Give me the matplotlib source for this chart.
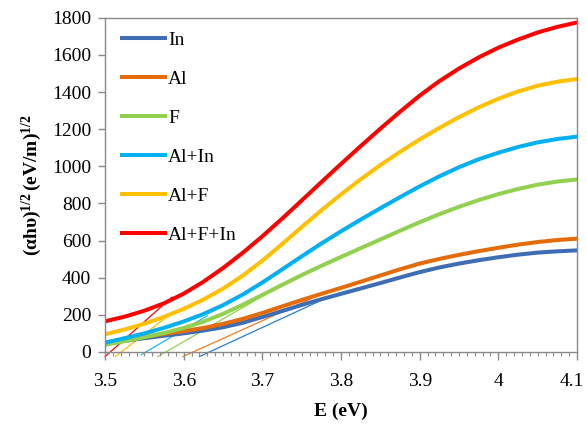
import numpy as np
import matplotlib
matplotlib.use("Agg")
import matplotlib.pyplot as plt
from matplotlib.ticker import MultipleLocator, FuncFormatter

plt.rcParams['font.family'] = ['Liberation Serif', 'DejaVu Serif']
plt.rcParams['mathtext.fontset'] = 'custom'
plt.rcParams['mathtext.rm'] = 'Liberation Serif'
plt.rcParams['mathtext.bf'] = 'Liberation Serif:bold'
plt.rcParams['mathtext.it'] = 'Liberation Serif:italic'

# photon energy (eV)
E = [3.5, 3.525, 3.55, 3.575, 3.6, 3.625, 3.65, 3.675, 3.7, 3.725, 3.75, 3.775, 3.8,
     3.825, 3.85, 3.875, 3.9, 3.925, 3.95, 3.975, 4.0, 4.025, 4.05, 4.075, 4.1]

# (alpha h nu)^1/2
In_vals    = [45, 60, 74, 87, 100, 115, 133, 157, 188, 220, 253, 284, 313,
              342, 371, 401, 430, 455, 476, 494, 510, 524, 535, 542, 547]
Al_vals    = [45, 65, 82, 97, 112, 129, 151, 178, 210, 245, 280, 313, 345,
              378, 412, 445, 476, 501, 523, 543, 561, 578, 592, 603, 610]
F_vals     = [38, 58, 79, 102, 129, 163, 205, 254, 307, 361, 414, 464, 512,
              559, 606, 653, 699, 742, 782, 818, 850, 878, 901, 918, 929]
AlIn_vals  = [50, 74, 100, 130, 164, 204, 252, 309, 374, 444, 515, 584, 650,
              713, 774, 834, 892, 946, 995, 1038, 1073, 1104, 1129, 1147, 1160]
AlF_vals   = [95, 121, 152, 189, 232, 282, 341, 411, 492, 581, 673, 763, 849,
              930, 1007, 1078, 1145, 1207, 1265, 1318, 1364, 1403, 1434, 1456, 1470]
AlFIn_vals = [165, 190, 222, 262, 314, 378, 452, 534, 623, 718, 816, 915, 1013,
              1109, 1203, 1294, 1381, 1459, 1527, 1587, 1639, 1683, 1721, 1751, 1775]

labels = ['In', 'Al', 'F', 'Al+In', 'Al+F', 'Al+F+In']
colors = ['#3f6db3', '#e36c09', '#92d050', '#00b0f0', '#ffc000', '#ff0000']
tan_colors = ['#2a7bd4', '#f07c20', '#92d050', '#1ab8f0', '#ffc000', '#ff0000']

# tangent (Tauc) lines: start (E, y) and end (E, y)
tan_start = [(3.620, -25), (3.599, -25), (3.567, -25), (3.546, -15), (3.513, -25), (3.500, -25)]
tan_end   = [(3.786, 300), (3.760, 283), (3.700, 300), (3.630, 195), (3.585, 210), (3.585, 295)]

series = [In_vals, Al_vals, F_vals, AlIn_vals, AlF_vals, AlFIn_vals]

fig = plt.figure(figsize=(5.87, 4.24), dpi=100)
ax = fig.add_axes([0.179, 0.170, 0.804, 0.788])

for (x0, y0), (x1, y1), c in zip(tan_start, tan_end, tan_colors):
    ax.plot([x0, x1], [y0, y1], color=c, lw=0.9, clip_on=False, zorder=1)

for vals, c, lab in zip(series, colors, labels):
    ax.plot(E, vals, color=c, lw=2.9, label=lab, zorder=2, solid_joinstyle='round')

ax.set_xlim(3.5, 4.1)
ax.set_ylim(0, 1800)
ax.xaxis.set_major_locator(MultipleLocator(0.1))
ax.xaxis.set_minor_locator(MultipleLocator(0.01))
ax.yaxis.set_major_locator(MultipleLocator(200))


def fmt_x(v, p):
    if v > 4.05:
        return ''  # drawn separately below so it stays inside the figure
    return ('%.1f' % v).rstrip('0').rstrip('.')


ax.xaxis.set_major_formatter(FuncFormatter(fmt_x))

for s in ax.spines.values():
    s.set_color('#898989')
    s.set_linewidth(1.0)
ax.tick_params(axis='both', which='major', direction='out', color='#898989',
               labelsize=14, length=5, width=1.0, pad=5)
ax.tick_params(axis='x', which='minor', direction='out', color='#898989', length=3, width=0.8)
ax.tick_params(axis='x', which='major', length=6, pad=9)

ax.annotate('4.1', xy=(4.1, 0), xycoords=('data', 'axes fraction'),
            xytext=(-4, -15), textcoords='offset points',
            ha='center', va='top', fontsize=14)

ax.set_xlabel('E (eV)', fontsize=14, fontweight='bold', labelpad=9)
ax.set_ylabel(r'$\mathbf{(αhυ)^{1/2}\,(eV/m)^{1/2}}$', fontsize=14, labelpad=6)

ax.legend(loc='upper left', frameon=False, fontsize=14, handlelength=2.2,
          handletextpad=0.15, labelspacing=1.1, borderaxespad=0.3,
          bbox_to_anchor=(0.008, 1.0))

fig.savefig('out.png', dpi=100)
